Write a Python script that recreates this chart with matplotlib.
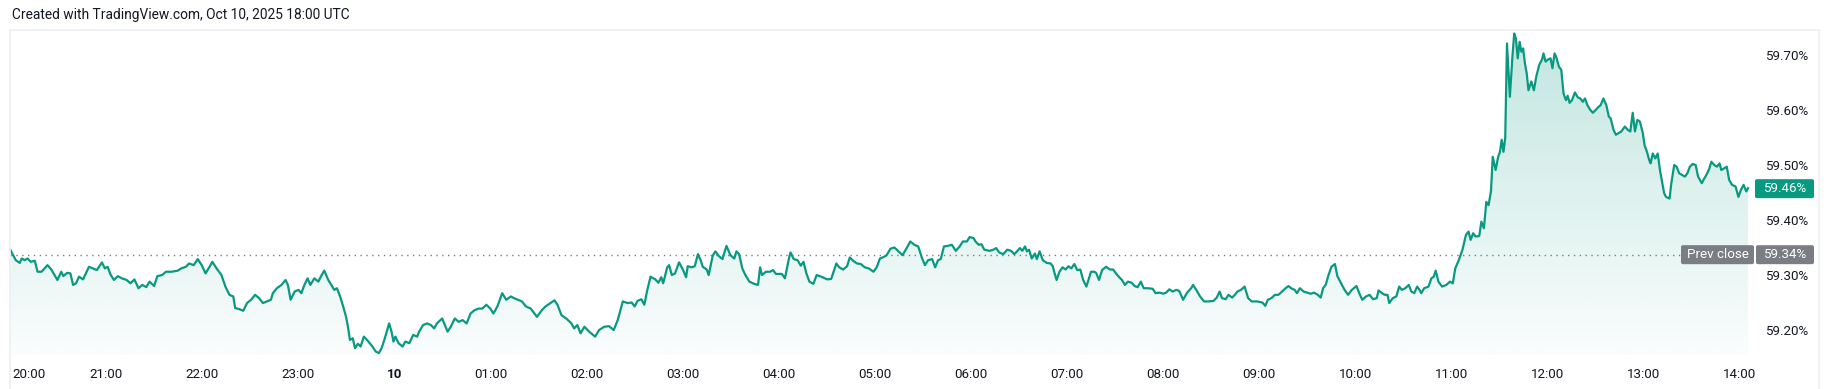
import matplotlib
matplotlib.use("Agg")
import matplotlib.pyplot as plt
import numpy as np
from matplotlib.transforms import IdentityTransform, blended_transform_factory
from matplotlib.patches import FancyBboxPatch
from matplotlib.lines import Line2D

plt.rcParams['font.family'] = ['Roboto', 'DejaVu Sans']

title = "Created with TradingView.com, Oct 10, 2025 18:00 UTC"

# minutes after 20:00 (Oct 9) and yield values in %
minutes_evening = [0, 3.6, 6.1, 7.3, 9.1, 11.0, 13.0, 15.5, 17.2, 19.7,
    23.4, 25.8, 29.6, 32.0, 33.3, 35.7, 37.7, 39.4, 41.2, 43.1,
    45.6, 49.3, 51.8, 54.2, 57.4, 59.2, 60.9, 62.9, 64.9, 67.3,
    69.8, 72.8, 75.2, 77.7, 80.2, 82.6, 85.1, 87.1, 90.0, 92.0,
    95.0, 97.4, 101.1, 104.8, 106.8, 109.8, 111.8, 114.7, 117.2, 119.7,
    122.1, 124.6, 126.3, 129.0, 132.0, 134.5, 137.0, 139.4, 140.6, 143.1,
    145.6, 148.0, 150.5, 153.0, 155.5, 157.9, 160.4, 162.9, 164.1, 166.6,
    169.5, 172.0, 173.5, 175.2, 177.7, 180.1, 181.9, 183.8, 185.8, 187.5,
    190.0, 192.5, 194.2, 196.2, 198.7, 200.6, 202.4, 204.1, 206.1, 208.0,
    209.8, 211.0, 212.2, 214.0, 215.4, 217.2, 218.9, 220.9, 222.9, 224.6,
    226.3, 228.3, 230.3, 232.0, 233.7, 235.2, 236.7, 238.2, 239.4, 240.6,
    242.6, 245.1, 246.8, 249.3, 251.7, 254.2, 255.4, 257.9, 260.4, 262.8,
    264.8, 266.5, 269.8, 271.5, 273.2, 275.2, 277.7, 280.1, 282.6, 285.1,
    287.5, 290.0, 292.5, 294.9, 297.4, 299.9, 301.8, 304.3, 307.3, 309.8,
    312.7, 314.7, 317.2, 319.6, 322.1, 325.1, 329.0, 332.0, 334.4, 337.4,
    339.9, 341.8, 344.3, 347.3, 350.5, 352.2, 354.2, 356.2, 358.6, 361.6,
    365.3, 367.8, 371.0, 374.0, 376.9]
values_evening = [59.350, 59.330, 59.325, 59.333, 59.330, 59.333, 59.327, 59.329, 59.309, 59.309,
    59.321, 59.313, 59.294, 59.309, 59.301, 59.307, 59.306, 59.285, 59.288, 59.300,
    59.295, 59.318, 59.315, 59.312, 59.326, 59.315, 59.318, 59.303, 59.294, 59.301,
    59.297, 59.294, 59.288, 59.295, 59.279, 59.285, 59.281, 59.291, 59.283, 59.301,
    59.303, 59.309, 59.309, 59.311, 59.315, 59.318, 59.324, 59.321, 59.332, 59.321,
    59.306, 59.318, 59.327, 59.315, 59.303, 59.282, 59.267, 59.264, 59.243, 59.241,
    59.238, 59.252, 59.258, 59.267, 59.261, 59.252, 59.255, 59.258, 59.270, 59.279,
    59.285, 59.294, 59.285, 59.258, 59.273, 59.276, 59.270, 59.285, 59.297, 59.285,
    59.297, 59.291, 59.301, 59.311, 59.294, 59.285, 59.276, 59.279, 59.264, 59.246,
    59.227, 59.209, 59.185, 59.188, 59.170, 59.178, 59.173, 59.191, 59.185, 59.179,
    59.173, 59.164, 59.161, 59.170, 59.185, 59.200, 59.215, 59.200, 59.182, 59.191,
    59.179, 59.173, 59.182, 59.179, 59.194, 59.191, 59.200, 59.212, 59.215, 59.212,
    59.206, 59.215, 59.224, 59.212, 59.200, 59.209, 59.224, 59.218, 59.221, 59.215,
    59.233, 59.239, 59.242, 59.242, 59.249, 59.242, 59.233, 59.246, 59.270, 59.258,
    59.264, 59.261, 59.258, 59.255, 59.246, 59.242, 59.227, 59.239, 59.246, 59.252,
    59.257, 59.249, 59.230, 59.224, 59.215, 59.206, 59.212, 59.197, 59.209, 59.200,
    59.191, 59.203, 59.209, 59.210, 59.203]

minutes_morning = [379.4, 382.6, 385.6, 388.1, 390.0, 391.8, 394.2, 396.0, 397.9, 399.9,
    402.9, 404.8, 406.6, 407.8, 410.3, 411.5, 413.2, 415.2, 417.7, 420.1,
    422.1, 423.1, 425.6, 427.5, 429.5, 431.3, 432.5, 435.0, 436.2, 438.7,
    440.4, 442.4, 444.8, 447.3, 449.8, 452.2, 453.5, 455.2, 457.2, 459.1,
    461.6, 464.6, 467.0, 468.3, 469.5, 472.0, 474.5, 476.4, 478.2, 481.9,
    483.8, 486.3, 487.3, 489.3, 491.7, 493.7, 495.4, 497.2, 499.1, 501.6,
    503.6, 506.5, 510.3, 512.7, 515.9, 517.7, 520.1, 522.6, 524.3, 526.3,
    528.8, 531.2, 533.7, 536.2, 539.1, 541.1, 543.1, 545.6, 547.3, 549.7,
    552.2, 554.0, 557.2, 559.6, 562.1, 564.6, 567.0, 569.5, 571.2, 573.2,
    575.7, 577.6, 579.4, 581.1, 583.1, 585.5, 588.0, 590.5, 592.9, 594.9,
    597.4, 599.1, 601.6, 602.8, 604.8, 606.5, 608.3, 611.5, 613.9, 615.7,
    617.6, 620.1, 622.6, 625.0, 627.0, 628.7, 630.5, 632.0, 633.7, 634.9,
    636.2, 637.9, 639.9, 641.1, 642.8, 644.8, 647.3, 649.7, 651.0, 652.2,
    653.4, 655.2, 657.1, 659.1, 660.8, 662.6, 664.5, 666.3, 668.2, 670.0,
    672.0, 673.9, 674.9, 676.9, 678.1, 679.9, 681.8, 684.3, 686.8, 688.7,
    690.5, 692.2, 694.2, 696.1, 697.9, 700.3, 702.1, 704.0, 706.0, 707.8,
    710.2, 713.4, 715.2, 717.6, 720.1, 721.8, 723.8, 725.8, 728.2, 730.0,
    732.4, 734.9, 737.4, 738.6, 740.6, 743.0, 745.5, 748.5, 751.4, 753.4]
values_morning = [59.221, 59.255, 59.252, 59.253, 59.246, 59.256, 59.259, 59.249, 59.276, 59.300,
    59.295, 59.289, 59.299, 59.288, 59.317, 59.321, 59.303, 59.306, 59.326, 59.313,
    59.299, 59.319, 59.317, 59.319, 59.341, 59.329, 59.318, 59.313, 59.303, 59.338,
    59.346, 59.338, 59.332, 59.356, 59.339, 59.333, 59.346, 59.341, 59.315, 59.303,
    59.291, 59.287, 59.285, 59.317, 59.303, 59.309, 59.309, 59.312, 59.305, 59.305,
    59.297, 59.333, 59.344, 59.332, 59.330, 59.320, 59.327, 59.306, 59.291, 59.287,
    59.303, 59.300, 59.295, 59.296, 59.324, 59.317, 59.313, 59.319, 59.335, 59.329,
    59.324, 59.323, 59.317, 59.315, 59.309, 59.317, 59.333, 59.336, 59.339, 59.351,
    59.353, 59.348, 59.339, 59.351, 59.364, 59.358, 59.355, 59.333, 59.321, 59.330,
    59.332, 59.317, 59.330, 59.332, 59.355, 59.356, 59.358, 59.347, 59.355, 59.364,
    59.364, 59.372, 59.370, 59.364, 59.358, 59.359, 59.349, 59.347, 59.349, 59.352,
    59.344, 59.341, 59.349, 59.347, 59.341, 59.346, 59.352, 59.347, 59.355, 59.346,
    59.349, 59.333, 59.342, 59.332, 59.346, 59.330, 59.325, 59.324, 59.319, 59.306,
    59.294, 59.309, 59.317, 59.313, 59.319, 59.315, 59.323, 59.312, 59.313, 59.294,
    59.282, 59.300, 59.309, 59.309, 59.307, 59.294, 59.312, 59.318, 59.313, 59.313,
    59.306, 59.300, 59.294, 59.285, 59.291, 59.289, 59.283, 59.281, 59.291, 59.279,
    59.279, 59.278, 59.270, 59.271, 59.269, 59.271, 59.277, 59.273, 59.276, 59.274,
    59.258, 59.271, 59.279, 59.285, 59.276, 59.264, 59.255, 59.255, 59.256, 59.262]

minutes_midday = [755.2, 756.7, 759.0, 760.7, 763.0, 764.7, 766.3, 768.5, 770.8, 773.0,
    775.2, 778.6, 781.9, 783.7, 785.3, 787.5, 789.7, 791.9, 794.2, 796.4,
    798.2, 799.8, 802.0, 803.5, 805.3, 807.6, 809.8, 812.0, 814.2, 816.5,
    818.3, 819.8, 821.4, 823.2, 825.0, 827.2, 828.7, 831.0, 833.2, 835.4,
    837.7, 840.6, 842.8, 844.3, 846.6, 848.8, 851.0, 853.3, 854.4, 856.6,
    858.4, 860.0, 861.1, 863.3, 865.5, 867.3, 868.9, 871.1, 873.3, 874.9,
    876.7, 878.5, 880.0, 881.1, 882.9, 885.6, 887.4, 888.9, 890.1, 891.8,
    894.1, 896.7, 899.0, 900.8, 902.3, 904.5, 906.8, 909.0, 910.6, 911.9,
    913.5, 915.0, 917.3, 918.6, 920.2, 921.7, 923.1, 924.6, 925.7, 927.5,
    929.1, 930.2, 931.3, 932.4, 933.5, 934.6, 936.4, 938.0, 939.1, 940.2,
    941.3, 942.5, 943.6, 944.7, 945.8, 946.9, 948.0, 949.8, 951.4, 952.9,
    954.7, 956.5, 957.4, 958.7, 960.3, 961.8, 963.0, 964.3, 965.4, 967.0,
    968.5, 969.9, 971.4, 972.5, 973.7, 975.2, 977.0, 978.8, 980.4, 981.9,
    983.3, 984.8, 986.4, 988.2, 989.9, 991.5, 993.1, 994.8, 996.6, 998.2,
    999.3, 1001.1, 1002.6, 1004.2, 1006.0, 1008.2, 1010.0, 1011.6, 1013.1, 1014.5,
    1016.0, 1017.6, 1019.4, 1020.5, 1022.0, 1023.4, 1024.3, 1025.6, 1027.2, 1028.7,
    1030.1, 1031.6, 1032.7, 1033.9, 1036.1, 1037.2, 1039.0, 1040.5, 1042.1, 1043.9,
    1045.7, 1047.2, 1048.8, 1050.6, 1052.4, 1053.9, 1056.2, 1057.3, 1059.1, 1060.6,
    1062.2, 1064.0, 1065.7, 1067.3, 1068.4, 1070.2, 1071.8, 1073.3, 1075.1, 1077.3,
    1079.1, 1080.7, 1082.3, 1084.0, 1085.1]
values_midday = [59.273, 59.261, 59.259, 59.267, 59.262, 59.267, 59.273, 59.276, 59.282, 59.261,
    59.255, 59.255, 59.253, 59.247, 59.258, 59.261, 59.267, 59.267, 59.273, 59.279,
    59.283, 59.279, 59.276, 59.270, 59.279, 59.273, 59.271, 59.269, 59.271, 59.267,
    59.262, 59.279, 59.285, 59.303, 59.318, 59.323, 59.301, 59.288, 59.276, 59.267,
    59.276, 59.283, 59.267, 59.258, 59.264, 59.267, 59.259, 59.261, 59.275, 59.270,
    59.267, 59.267, 59.252, 59.261, 59.264, 59.282, 59.276, 59.279, 59.285, 59.273,
    59.270, 59.282, 59.276, 59.270, 59.279, 59.282, 59.297, 59.300, 59.311, 59.291,
    59.282, 59.285, 59.291, 59.288, 59.315, 59.330, 59.349, 59.376, 59.382, 59.367,
    59.379, 59.373, 59.374, 59.400, 59.388, 59.436, 59.430, 59.455, 59.518, 59.494,
    59.518, 59.527, 59.549, 59.527, 59.552, 59.724, 59.627, 59.700, 59.742, 59.733,
    59.697, 59.727, 59.709, 59.715, 59.688, 59.670, 59.639, 59.655, 59.639, 59.664,
    59.685, 59.695, 59.706, 59.691, 59.695, 59.697, 59.679, 59.706, 59.699, 59.682,
    59.676, 59.633, 59.621, 59.629, 59.616, 59.621, 59.635, 59.626, 59.624, 59.618,
    59.624, 59.612, 59.604, 59.598, 59.603, 59.608, 59.612, 59.624, 59.612, 59.591,
    59.588, 59.567, 59.558, 59.561, 59.564, 59.573, 59.567, 59.564, 59.598, 59.564,
    59.585, 59.582, 59.561, 59.539, 59.527, 59.512, 59.506, 59.524, 59.515, 59.524,
    59.494, 59.470, 59.452, 59.445, 59.442, 59.470, 59.503, 59.500, 59.488, 59.485,
    59.482, 59.488, 59.500, 59.505, 59.503, 59.482, 59.470, 59.476, 59.485, 59.494,
    59.509, 59.503, 59.500, 59.506, 59.494, 59.497, 59.500, 59.476, 59.467, 59.464,
    59.445, 59.458, 59.467, 59.455, 59.461]

prev_close = 59.34
last_value = 59.46

tick_minutes = [0, 60, 120, 180, 240, 300, 360, 420, 480, 540, 600, 660, 720,
                780, 840, 900, 960, 1020, 1080]
tick_labels = ["20:00", "21:00", "22:00", "23:00", "10", "01:00", "02:00", "03:00",
               "04:00", "05:00", "06:00", "07:00", "08:00", "09:00", "10:00",
               "11:00", "12:00", "13:00", "14:00"]
ytick_values = [59.20, 59.30, 59.40, 59.50, 59.60, 59.70]
ytick_labels = ["59.20%", "59.30%", "59.40%", "59.50%", "59.60%", "59.70%"]

# ---------------------------------------------------------------------------
t = np.array(minutes_evening + minutes_morning + minutes_midday)
v = np.array(values_evening + values_morning + values_midday)

W, H = 1831, 389
fig = plt.figure(figsize=(W / 100, H / 100), dpi=100)
fig.patch.set_facecolor("white")


def rect(x0, y0, x1, y1):
    return [x0 / W, 1 - y1 / H, (x1 - x0) / W, (y1 - y0) / H]


ax = fig.add_axes(rect(10, 30, 1819, 355))
XLIM = (0, 1129.4)
YLIM = (59.1576, 59.7485)
ax.axis("off")

GREEN = "#089981"
GRAY = "#7b7d84"
TEXT = "#131722"

# gradient area
poly = ax.fill_between(t, v, YLIM[0], facecolor="none", edgecolor="none")
grad = np.zeros((256, 1, 4))
grad[..., 0] = 8 / 255
grad[..., 1] = 153 / 255
grad[..., 2] = 129 / 255
grad[:, 0, 3] = np.linspace(0.25, 0.02, 256)
im = ax.imshow(grad, extent=[t[0], t[-1], YLIM[0], v.max()], aspect="auto",
               origin="upper", zorder=1, interpolation="bilinear")
im.set_clip_path(poly.get_paths()[0], ax.transData)

ax.plot(t, v, color=GREEN, lw=1.6, zorder=3, solid_joinstyle="round")

ax.set_xlim(*XLIM)
ax.set_ylim(*YLIM)

# prev close dotted line
ax.axhline(prev_close, xmin=0, xmax=(1681 - 10) / 1809, color=GRAY, lw=1.0,
           linestyle=(0, (1, 3.2)), zorder=2)

# time axis labels
tb = blended_transform_factory(ax.transData, ax.transAxes)
for m, lab in zip(tick_minutes, tick_labels):
    bold = lab == "10"
    if m == tick_minutes[0]:
        ax.text(m + 1.2, -0.0585, lab, transform=tb, ha="left", va="center",
                fontsize=9.6, color=TEXT)
    else:
        ax.text(m, -0.0585, lab, transform=tb, ha="center", va="center",
                fontsize=9.6, color=TEXT, fontweight="bold" if bold else "normal")

# price axis labels
pb = blended_transform_factory(ax.transAxes, ax.transData)
xlab = (1787 - 10) / 1809
for yv, lab in zip(ytick_values, ytick_labels):
    ax.text(xlab, yv, lab, transform=pb, ha="center", va="center",
            fontsize=9.6, color=TEXT)

fig.canvas.draw()


def badge(x0, x1, value, color, text, h=19):
    yd = ax.transData.transform((0, value))[1]
    p = FancyBboxPatch((x0, yd - h / 2), x1 - x0, h,
                       boxstyle="round,pad=0,rounding_size=2",
                       facecolor=color, edgecolor="none",
                       transform=IdentityTransform(), zorder=5)
    fig.patches.append(p)
    fig.text((x0 + x1) / 2, yd, text, transform=IdentityTransform(),
             ha="center", va="center", fontsize=9.6, color="white", zorder=6)


badge(1755, 1814, last_value, GREEN, f"{last_value:.2f}%")
badge(1681, 1754, prev_close, GRAY, "Prev close")
badge(1756, 1814, prev_close, GRAY, f"{prev_close:.2f}%")

# frame
fc = "#edeff3"
for (xa, ya, xb, yb) in [(10, 30, 1819, 30), (10, 30, 10, 389), (1819, 30, 1819, 389)]:
    fig.add_artist(Line2D([xa / W, xb / W], [1 - ya / H, 1 - yb / H],
                          transform=fig.transFigure, color=fc, lw=1.2))

fig.text(12 / W, 1 - 15 / H, title, ha="left", va="center", fontsize=9.9,
         color=TEXT)

fig.savefig("out.png", dpi=100, facecolor="white")
